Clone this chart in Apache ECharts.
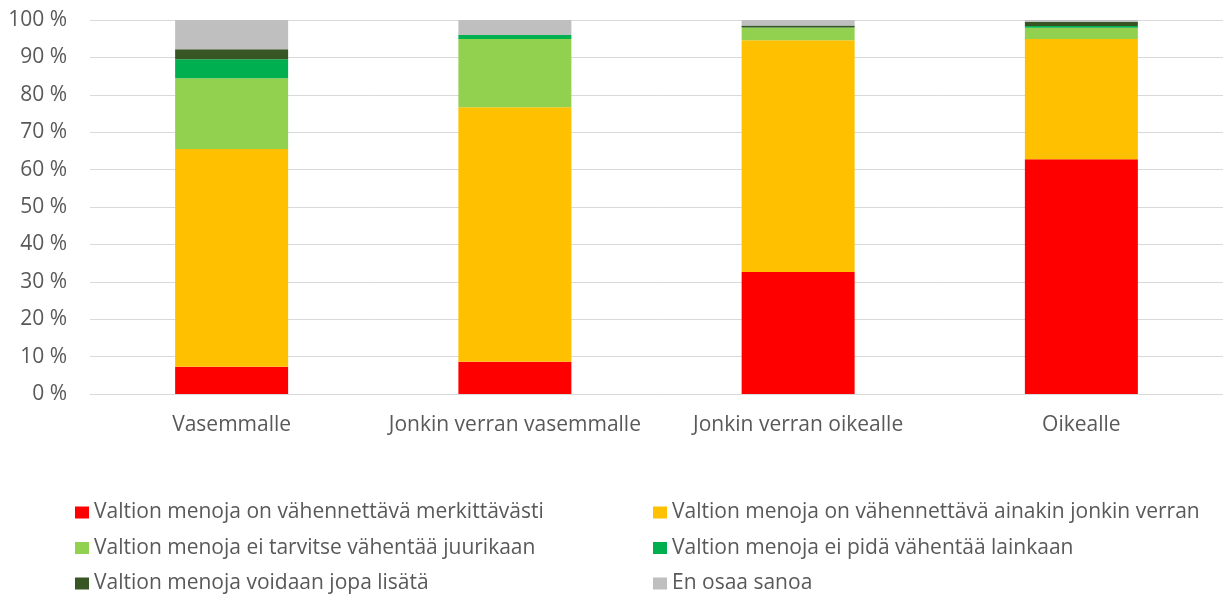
<!DOCTYPE html>
<html><head><meta charset="utf-8">
<script src="https://cdn.jsdelivr.net/npm/echarts@6/dist/echarts.min.js"></script>
<style>html,body{margin:0;padding:0;background:#fff}#c{width:1223px;height:594px}</style>
</head><body><div id="c"></div>
<script>
var categories = ['Vasemmalle', 'Jonkin verran vasemmalle', 'Jonkin verran oikealle', 'Oikealle'];
var seriesNames = [
  'Valtion menoja on vähennettävä merkittävästi',
  'Valtion menoja on vähennettävä ainakin jonkin verran',
  'Valtion menoja ei tarvitse vähentää juurikaan',
  'Valtion menoja ei pidä vähentää lainkaan',
  'Valtion menoja voidaan jopa lisätä',
  'En osaa sanoa'
];
var colors = ['#FF0000', '#FFC000', '#92D050', '#00B050', '#375623', '#BFBFBF'];
var merkittavasti = [7.3, 8.6, 32.6, 62.8];
var jonkinVerran = [58.2, 68.1, 62.0, 32.1];
var eiJuurikaan = [18.9, 18.2, 3.3, 3.0];
var eiLainkaan = [5.1, 1.1, 0.1, 0.5];
var jopaLisata = [2.7, 0.0, 0.5, 1.1];
var enOsaa = [7.8, 4.0, 1.5, 0.5];
var yTicks = [0, 10, 20, 30, 40, 50, 60, 70, 80, 90, 100];

var values = [merkittavasti, jonkinVerran, eiJuurikaan, eiLainkaan, jopaLisata, enOsaa];
var chart = echarts.init(document.getElementById('c'), null, {renderer: 'canvas'});
var font = 'Open Sans';
var series = values.map(function (v, i) {
  return {
    name: seriesNames[i], type: 'bar', stack: 'total', data: v,
    barWidth: 113,
    itemStyle: {color: colors[i]},
    emphasis: {disabled: true}
  };
});
function legendCfg(left, names) {
  return {orient: 'vertical', left: left, top: 497, height: 100,
    itemWidth: 14, itemHeight: 12, itemGap: 14.5,
    icon: 'rect', data: names,
    textStyle: {color: '#595959', fontSize: 21, fontFamily: font}};
}
chart.setOption({
  animation: false,
  grid: {left: 90, right: 0, top: 20, bottom: 200, containLabel: false},
  xAxis: {
    type: 'category', data: categories,
    axisLine: {show: true, lineStyle: {color: '#D9D9D9', width: 1}},
    axisTick: {show: false},
    axisLabel: {color: '#595959', fontSize: 21, fontFamily: font, margin: 21, interval: 0}
  },
  yAxis: {
    type: 'value', min: 0, max: 100, interval: 10,
    axisLine: {show: false}, axisTick: {show: false},
    splitLine: {lineStyle: {color: '#D9D9D9', width: 1}},
    axisLabel: {color: '#595959', fontSize: 21, fontFamily: font, margin: 23,
      formatter: function (v) { return yTicks.indexOf(v) >= 0 ? v + ' %' : ''; }}
  },
  legend: [
    legendCfg(70, [seriesNames[0], seriesNames[2], seriesNames[4]]),
    legendCfg(648, [seriesNames[1], seriesNames[3], seriesNames[5]])
  ],
  series: series
});
</script></body></html>
